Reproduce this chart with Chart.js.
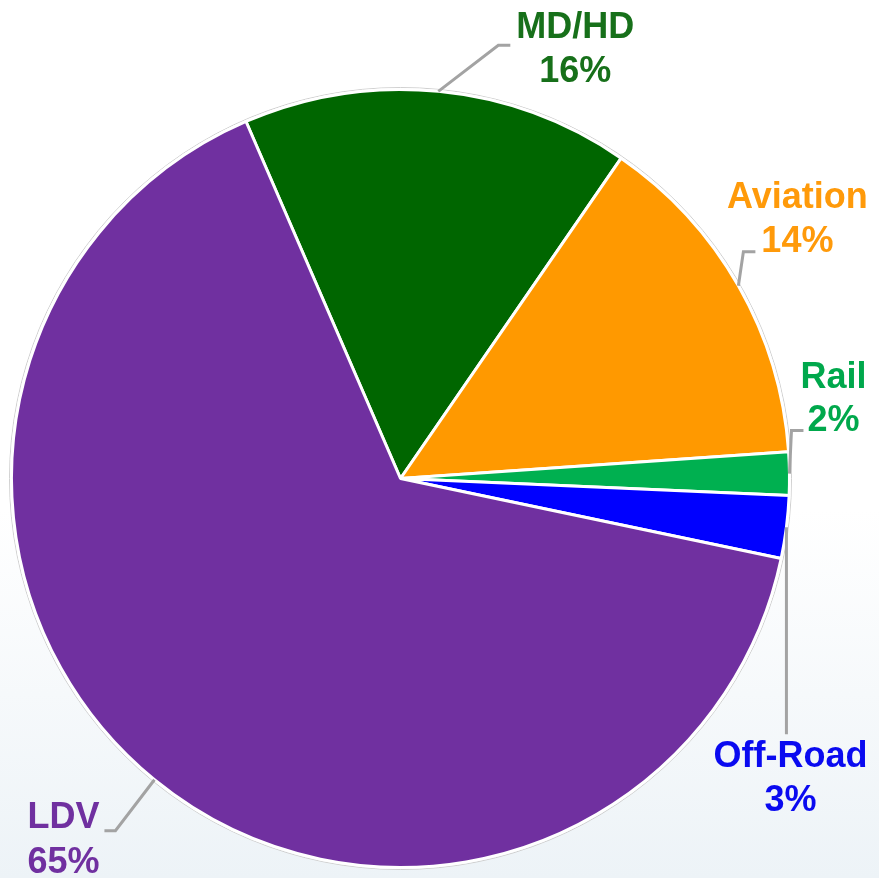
<!DOCTYPE html>
<html>
<head>
<meta charset="utf-8">
<script src="https://cdn.jsdelivr.net/npm/chart.js@4"></script>
<style>
  html, body { margin: 0; padding: 0; }
  body {
    width: 879px; height: 878px; overflow: hidden;
    background: linear-gradient(to bottom, #ffffff 0%, #ffffff 58%, #edf3f7 100%);
  }
  #wrap { width: 879px; height: 878px; position: relative; }
</style>
</head>
<body>
<div id="wrap"><canvas id="pieChart"></canvas></div>
<script>
// Share of transportation by mode
const categories = ['MD/HD', 'Aviation', 'Rail', 'Off-Road', 'LDV'];
const shares = [16.1, 14.3, 1.8, 2.6, 65.2];
const sliceColors = ['#006600', '#ff9900', '#00b050', '#0000ff', '#7030a0'];
const labelColors = ['#17701a', '#ff9a0a', '#00a84c', '#0a0af0', '#7030a0'];

// leader lines: elbow / end offsets from the slice's outer mid point, text centre + baselines
const labelLayout = [
    { elbow: [60, -46], end: [72, -46], tx: 137, ty: [-53, -9] },
    { elbow: [5, -34], end: [17, -34], tx: 59, ty: [-78, -34] },
    { elbow: [2, -43], end: [14, -43], tx: 44, ty: [-86, -43] },
    { elbow: [0, 207], end: [0, 207], tx: 4, ty: [240, 284] },
    { elbow: [-39, 51], end: [-50, 51], tx: -91, ty: [48, 93] }
];

// faint grey rim just outside the white slice border
const pieRim = {
    id: 'pieRim',
    beforeDatasetsDraw(chart) {
        const arc = chart.getDatasetMeta(0).data[0];
        if (!arc) return;
        const { x, y, outerRadius } = arc.getProps(['x', 'y', 'outerRadius'], true);
        const { ctx } = chart;
        ctx.save();
        ctx.strokeStyle = '#cfcfcf';
        ctx.lineWidth = 1;
        ctx.beginPath();
        ctx.arc(x, y, outerRadius + 2, 0, Math.PI * 2);
        ctx.stroke();
        ctx.restore();
    }
};

const leaderLabels = {
    id: 'leaderLabels',
    afterDatasetsDraw(chart) {
        const { ctx } = chart;
        const arcs = chart.getDatasetMeta(0).data;
        ctx.save();
        arcs.forEach((arc, i) => {
            const { x, y, startAngle, endAngle, outerRadius } = arc.getProps(['x', 'y', 'startAngle', 'endAngle', 'outerRadius'], true);
            const mid = (startAngle + endAngle) / 2;
            const ax = x + Math.cos(mid) * outerRadius;
            const ay = y + Math.sin(mid) * outerRadius;
            const l = labelLayout[i];

            ctx.strokeStyle = '#a3a3a3';
            ctx.lineWidth = 3;
            ctx.beginPath();
            ctx.moveTo(ax, ay);
            ctx.lineTo(ax + l.elbow[0], ay + l.elbow[1]);
            ctx.lineTo(ax + l.end[0], ay + l.end[1]);
            ctx.stroke();

            ctx.fillStyle = labelColors[i];
            ctx.font = 'bold 36px "Liberation Sans", Arial, sans-serif';
            ctx.textAlign = 'center';
            ctx.textBaseline = 'alphabetic';
            ctx.fillText(categories[i], ax + l.tx, ay + l.ty[0]);
            ctx.fillText(Math.round(shares[i]) + '%', ax + l.tx, ay + l.ty[1]);
        });
        ctx.restore();
    }
};

new Chart(document.getElementById('pieChart'), {
    type: 'pie',
    data: {
        labels: categories,
        datasets: [{
            data: shares,
            backgroundColor: sliceColors,
            borderColor: '#ffffff',
            borderWidth: 3
        }]
    },
    options: {
        responsive: true,
        maintainAspectRatio: false,
        animation: false,
        rotation: -23.4,
        layout: { padding: { left: 10, right: 88, top: 88, bottom: 9 } },
        plugins: {
            legend: { display: false },
            tooltip: { enabled: false }
        }
    },
    plugins: [pieRim, leaderLabels]
});
</script>
</body>
</html>
